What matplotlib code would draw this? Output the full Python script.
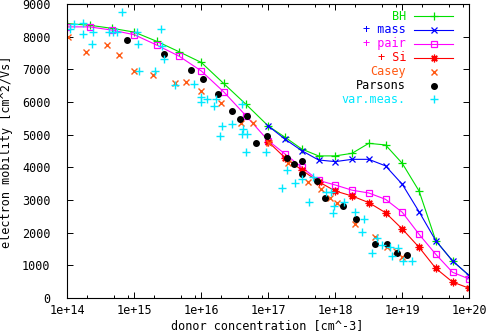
import matplotlib
matplotlib.use('Agg')
import matplotlib.pyplot as plt
from matplotlib.ticker import FixedLocator, LogLocator, NullFormatter

# --- curve data (model calculations) ---
donor = [1e14, 2.15e14, 4.64e14, 1e15, 2.15e15, 4.64e15, 1e16, 2.15e16, 4.64e16,
         1e17, 1.78e17, 3.16e17, 5.62e17, 1e18, 1.78e18, 3.16e18, 5.62e18,
         1e19, 1.78e19, 3.16e19, 5.62e19, 1e20]
donor_hi = [1e17, 1.78e17, 3.16e17, 5.62e17, 1e18, 1.78e18, 3.16e18, 5.62e18,
            1e19, 1.78e19, 3.16e19, 5.62e19, 1e20]

bh = [8400, 8350, 8255, 8140, 7860, 7540, 7210, 6570, 5930,
      5265, 4920, 4560, 4350, 4350, 4430, 4735, 4685, 4120, 3275, 1755, 1135, 685]
pair = [8300, 8300, 8200, 8060, 7745, 7405, 6950, 6315, 5580,
        4815, 4408, 4000, 3600, 3459, 3300, 3215, 3021, 2623, 1950, 1338, 787, 582]
mass = [5265, 4860, 4510, 4225, 4175, 4245, 4245, 4045, 3480, 2640, 1755, 1135, 685]
si = [4780, 4290, 3918, 3560, 3275, 3122, 2920, 2611, 2112, 1552, 909, 490, 297]

# --- measured data ---
casey_n = [1.03e14, 1.9e14, 3.87e14, 5.97e14, 1e15, 1.92e15, 4.05e15, 5.85e15, 9.9e15,
           1.95e16, 3.87e16, 5.97e16, 1.03e17, 1.95e17, 3.92e17, 6.05e17, 8.34e17,
           1.05e18, 2.0e18, 3.95e18, 5.91e18, 8.13e18, 1.0e19]
casey_mu = [8000, 7521, 7744, 7429, 6958, 6835, 6590, 6621, 6345,
            5978, 5357, 5366, 4754, 4142, 3560, 3346, 3070,
            2893, 2280, 1867, 1561, 1430, 1270]

parsons_n = [7.8e14, 2.8e15, 6.9e15, 1.06e16, 1.8e16, 2.9e16, 3.8e16, 4.81e16, 6.5e16,
             9.46e16, 1.9e17, 2.38e17, 3.21e17, 3.13e17, 5.28e17, 7.02e17, 1.29e18,
             2.04e18, 3.92e18, 5.97e18, 8.25e18, 1.16e19]
parsons_mu = [7900, 7480, 6970, 6710, 6235, 5733, 5479, 5571, 4735,
              4968, 4301, 4102, 4194, 3811, 3581, 3070, 2816,
              2427, 1653, 1653, 1387, 1325]

varmeas_n = [1.1e14, 1.25e14, 1.73e14, 1.73e14, 2.44e14, 2.34e14, 4.15e14, 4.76e14, 5.52e14,
             6.62e14, 1.11e15, 1.14e15, 1.16e15, 2.02e15, 2.48e15, 2.59e15, 2.77e15,
             4.05e15, 7.86e15, 9.9e15, 9.9e15, 1.23e16, 1.56e16, 1.66e16, 2.06e16,
             1.92e16, 2.9e16, 4.01e16, 4.01e16, 4.15e16, 4.76e16, 4.6e16, 9.25e16,
             1.92e17, 1.58e17, 2.5e17, 3.13e17, 4.12e17, 4.6e17, 7.19e17, 8.71e17,
             9.63e17, 9.33e17, 1.36e18, 1.95e18, 2.7e18, 2.53e18, 4.24e18, 3.49e18,
             4.9e18, 6.62e18, 6.9e18, 8.71e18, 1.04e19, 1.4e19]
varmeas_mu = [8225, 8378, 8427, 8072, 8133, 7766, 8133, 8133, 8133,
              8745, 8133, 7766, 6948, 6948, 8225, 7723, 7307,
              6520, 6541, 6162, 6009, 6082, 5877, 6082, 5265,
              4968, 5317, 5929, 5020, 5164, 5020, 4460, 4484,
              3918, 3358, 3511, 3633, 2929, 3695, 3235, 3254,
              2807, 2593, 2939, 2642, 2409, 2011, 1827, 1377,
              1613, 1576, 1301, 1521, 1142, 1142]

x_ticks = [1e14, 1e15, 1e16, 1e17, 1e18, 1e19, 1e20]
x_tick_labels = ['1e+14', '1e+15', '1e+16', '1e+17', '1e+18', '1e+19', '1e+20']
y_ticks = [0, 1000, 2000, 3000, 4000, 5000, 6000, 7000, 8000, 9000]

GREEN = '#00e000'
BLUE = '#0000ff'
MAGENTA = '#ff00ff'
RED = '#ff0000'
ORANGE = '#ff5a14'
CYAN = '#00e8ff'

plt.rcParams['font.family'] = ['DejaVu Sans Mono']
plt.rcParams['font.size'] = 8.5

W, H = 489, 332
fig = plt.figure(figsize=(W / 100, H / 100), dpi=100)
L, R, T, B = 67.3, 469.3, 4, 298
ax = fig.add_axes([L / W, 1 - B / H, (R - L) / W, (B - T) / H])

lw = 0.8
ax.plot(donor, bh, color=GREEN, lw=lw, marker='+', ms=6, mew=0.9)
ax.plot(donor_hi, mass, color=BLUE, lw=lw, marker='x', ms=4, mew=0.9)
ax.plot(donor, pair, color=MAGENTA, lw=lw, marker='s', ms=4.2, mew=0.9, mfc='none')
ax.plot(donor_hi, si, color=RED, lw=lw, marker=(8, 2, 0), ms=5.5, mew=0.9)
ax.plot(casey_n, casey_mu, ls='none', color=ORANGE, marker='x', ms=4, mew=1.0)
ax.plot(parsons_n, parsons_mu, ls='none', color='black', marker='o', ms=4)
ax.plot(varmeas_n, varmeas_mu, ls='none', color=CYAN, marker='+', ms=6, mew=1.0)

ax.set_xscale('log')
ax.set_xlim(1e14, 1e20)
ax.set_ylim(0, 9000)
ax.xaxis.set_major_locator(FixedLocator(x_ticks))
ax.set_xticklabels(x_tick_labels)
ax.xaxis.set_minor_locator(LogLocator(base=10, subs=[2, 5, 8]))
ax.xaxis.set_minor_formatter(NullFormatter())
ax.set_yticks(y_ticks)
ax.tick_params(which='both', direction='in', top=True, right=True, width=0.7)
ax.tick_params(which='major', length=4.5)
ax.tick_params(which='minor', length=2.5)
ax.tick_params(axis='x', pad=4.5)
ax.tick_params(axis='y', pad=12)
for s in ax.spines.values():
    s.set_linewidth(0.8)

fig.text(267 / W, 1 - 326 / H, 'donor concentration [cm^-3]', ha='center', va='center')
fig.text(7 / W, 1 - 152 / H, 'electron mobility [cm^2/Vs]', ha='center', va='center',
         rotation=90)

# gnuplot style key: right-aligned text, sample on the right
def fx(px):
    return (px - L) / (R - L)

def fy(py):
    return (B - py) / (B - T)

key = [
    ('BH', GREEN, True, dict(marker='+', ms=6, mew=0.9)),
    ('+ mass', BLUE, True, dict(marker='x', ms=4, mew=0.9)),
    ('+ pair', MAGENTA, True, dict(marker='s', ms=4.2, mew=0.9, mfc='none')),
    ('+ Si', RED, True, dict(marker=(8, 2, 0), ms=5.5, mew=0.9)),
    ('Casey', ORANGE, False, dict(marker='x', ms=4, mew=1.0)),
    ('Parsons', 'black', False, dict(marker='o', ms=4)),
    ('var.meas.', CYAN, False, dict(marker='+', ms=6, mew=1.0)),
]
for i, (label, col, has_line, style) in enumerate(key):
    py = 16 + i * 13.9
    ax.text(fx(406), fy(py), label, color=col, ha='right', va='center',
            transform=ax.transAxes)
    if has_line:
        ax.plot([fx(414), fx(453)], [fy(py), fy(py)], color=col, lw=lw,
                transform=ax.transAxes, clip_on=False)
    ax.plot([fx(433.5)], [fy(py)], color=col, transform=ax.transAxes, ls='none',
            **style)

fig.savefig('out.png', dpi=100)
